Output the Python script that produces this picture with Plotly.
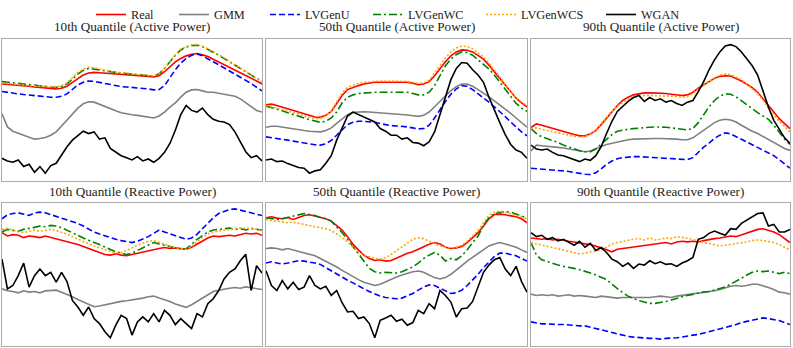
import plotly.graph_objects as go

# time axis: half-hour steps over one day
hours = [h / 2 for h in range(49)]

# ---- 10th quantile, active power
p1_real = [295,294,292,291,289,288,286,284,283,281,280,282,288,300,312,322,328,330,329,328,327,326,324,323,322,321,319,318,316,320,332,348,362,372,380,385,387,383,378,370,362,354,346,338,330,322,313,304,295]
p1_gmm = [205,165,152,146,138,132,128,130,133,140,150,168,186,205,222,235,241,240,233,226,220,214,208,204,202,200,198,196,192,198,210,225,238,255,270,277,278,274,270,270,267,266,263,258,250,238,225,215,210]
p1_u = [272,269,267,265,263,261,259,257,256,255,255,258,265,280,292,300,304,303,300,296,292,289,287,286,285,284,282,280,277,278,290,315,338,358,372,382,386,380,370,362,353,344,335,326,316,306,296,285,274]
p1_wc = [302,300,298,296,294,292,290,288,287,286,285,287,295,310,325,336,342,340,337,334,332,330,328,326,325,323,322,320,319,326,342,362,382,398,407,411,412,408,400,392,382,372,362,350,340,330,320,312,304]
p1_wcs = [298,297,296,294,292,290,289,287,286,285,286,290,298,314,330,340,346,344,340,336,333,331,329,327,326,324,323,321,320,326,342,362,384,400,408,413,414,410,402,393,384,374,364,352,342,332,322,312,300]
p1_wgan = [70,62,58,65,45,52,28,45,25,48,55,80,105,125,140,152,145,150,128,132,100,88,78,72,65,75,62,68,58,70,88,115,155,202,230,215,210,222,202,188,182,180,172,150,122,90,72,78,62]

# ---- 50th quantile, active power
p2_real = [232,234,230,225,220,215,210,205,200,195,194,200,212,235,260,278,285,290,295,298,300,300,300,300,301,302,300,297,293,295,302,320,342,362,380,392,398,397,392,382,370,352,332,312,290,270,252,238,226]
p2_gmm = [164,167,167,164,162,159,156,154,152,150,150,154,162,176,190,202,209,211,211,210,209,208,207,205,204,203,201,199,197,200,210,226,242,260,275,287,295,295,288,278,268,256,244,232,220,206,192,178,164]
p2_u = [135,133,131,128,125,122,119,116,113,111,110,114,124,140,158,172,179,182,182,181,179,175,171,169,168,167,165,162,159,160,170,192,218,242,264,280,290,288,278,266,252,240,226,212,196,180,164,150,138]
p2_wc = [228,224,220,214,208,202,196,192,187,182,179,182,192,210,238,255,262,266,268,269,270,270,270,270,271,272,270,266,262,262,270,290,320,350,370,384,392,390,382,368,354,340,322,300,278,255,236,222,212]
p2_wcs = [230,226,222,218,214,208,204,198,194,190,191,198,214,240,268,285,292,297,300,302,303,304,304,304,305,305,303,300,296,298,306,328,352,374,392,404,410,408,402,390,376,358,338,316,294,272,254,240,230]
p2_wgan = [65,68,60,62,54,48,42,40,25,32,35,55,78,125,162,198,210,202,194,188,180,160,152,140,140,128,132,118,116,108,120,150,205,260,308,342,360,358,338,322,300,255,215,178,142,112,95,88,70]

# ---- 90th quantile, active power
p3_real = [163,174,170,165,160,155,150,146,142,138,138,144,154,172,192,212,230,245,255,262,266,268,268,268,267,266,264,262,260,262,270,282,292,302,312,318,320,319,312,304,294,284,270,250,228,208,190,175,160]
p3_gmm = [92,110,108,107,105,103,101,98,95,92,90,92,100,106,112,116,120,123,126,128,129,130,130,130,130,130,129,128,126,126,132,144,156,168,178,185,188,186,180,170,160,152,145,136,128,118,108,100,94]
p3_u = [40,39,38,37,36,34,32,30,27,24,22,21,26,38,52,62,69,72,74,75,75,74,73,72,71,70,69,68,67,66,72,88,104,116,130,140,147,144,136,128,120,112,104,96,88,78,66,52,40]
p3_wc = [160,145,135,130,124,118,110,104,98,93,90,90,98,112,128,142,152,156,158,160,162,163,164,165,165,164,162,160,157,156,160,178,202,226,245,258,265,264,256,244,230,218,208,198,188,170,150,128,112]
p3_wcs = [160,162,158,154,150,146,143,140,137,135,136,144,156,175,195,212,228,240,250,255,258,260,260,260,260,259,258,257,255,257,266,280,292,304,314,322,325,323,316,308,294,280,266,246,222,200,182,165,150]
p3_wgan = [110,98,95,98,88,80,78,72,64,60,68,64,78,105,145,182,212,228,242,254,260,242,254,245,250,240,245,236,230,240,245,272,302,338,368,392,410,414,408,392,372,350,322,275,225,185,160,132,115]

# ---- 10th quantile, reactive power
p4_real = [343,333,337,335,328,333,331,328,333,329,325,321,317,313,307,301,295,287,281,277,275,279,275,273,277,281,283,287,291,295,298,295,297,295,293,299,308,319,327,333,331,333,335,333,337,341,339,341,335]
p4_gmm = [173,167,165,161,167,163,165,161,167,169,169,163,157,149,141,133,125,119,121,125,129,131,135,137,139,141,145,149,151,145,141,135,127,121,117,125,135,147,157,165,169,173,175,177,175,179,177,175,171]
p4_u = [385,397,401,403,399,395,403,405,403,398,393,388,383,377,371,363,353,345,339,333,328,323,319,315,313,317,323,331,341,351,345,339,333,327,323,327,338,355,373,388,401,408,413,415,411,407,405,401,395]
p4_wc = [345,353,350,347,353,355,359,363,361,365,363,358,351,343,335,327,319,313,307,299,291,285,281,277,281,289,297,307,313,309,305,301,297,293,295,307,323,335,345,351,353,355,357,353,355,351,355,353,351]
p4_wcs = [353,356,351,347,343,347,351,347,351,353,349,345,339,331,323,315,309,303,297,291,285,281,283,289,297,305,311,317,319,313,307,301,297,295,293,301,315,329,339,345,348,351,353,356,358,355,357,353,349]
p4_wgan = [263,173,183,213,251,178,213,233,213,223,193,223,195,138,118,93,118,83,68,43,25,63,93,83,33,73,88,73,98,73,108,93,65,83,68,53,98,88,128,143,168,203,223,233,258,278,168,243,221]

# ---- 50th quantile, reactive power
p5_real = [388,391,387,385,389,383,389,395,397,393,391,385,378,365,351,331,308,291,275,265,259,261,257,259,265,273,281,285,293,301,308,313,309,299,295,297,301,313,328,343,363,385,398,399,397,395,391,385,373]
p5_gmm = [295,297,295,291,295,291,287,283,279,273,265,257,249,239,229,219,211,201,193,187,183,187,195,203,209,215,221,225,227,223,215,207,203,207,217,229,243,257,269,281,293,303,309,313,309,305,299,291,283]
p5_u = [251,255,251,248,251,255,258,257,255,251,247,237,227,217,209,199,191,181,173,165,157,151,147,145,143,145,151,159,169,179,185,183,175,167,159,161,169,183,199,217,237,255,271,281,281,277,273,265,257]
p5_wc = [388,385,383,385,389,393,397,401,398,395,389,385,378,361,343,323,301,277,255,235,225,221,223,223,221,225,231,239,251,265,275,283,275,257,265,261,273,291,313,333,365,388,401,405,407,405,399,393,387]
p5_wcs = [383,381,377,375,373,375,371,367,365,361,358,355,349,339,329,315,299,285,275,269,265,263,267,277,289,301,313,323,327,325,317,309,303,299,297,299,305,317,333,349,373,397,405,408,405,401,395,391,385]
p5_wgan = [228,183,168,198,173,193,171,178,213,183,173,181,153,168,131,103,105,83,88,68,25,78,85,93,75,81,63,71,108,98,128,113,168,153,133,88,113,115,135,178,223,245,261,268,233,213,241,195,163]

# ---- 90th quantile, reactive power
p6_real = [327,325,323,325,321,323,319,317,315,311,309,307,303,297,291,285,293,295,297,299,301,303,307,309,311,313,309,315,317,315,317,315,319,323,325,327,331,333,331,337,343,347,353,355,351,345,337,325,313]
p6_gmm = [157,153,155,153,155,151,153,155,151,153,151,149,147,151,149,147,145,147,147,145,147,145,147,149,151,149,147,151,153,157,159,161,163,165,167,171,177,181,183,181,183,187,187,183,177,171,163,161,157]
p6_u = [73,69,67,67,65,65,65,63,61,61,61,57,53,47,43,39,35,33,29,27,25,25,23,23,21,23,23,25,27,31,33,35,39,43,47,51,57,61,65,71,75,79,83,85,83,81,77,71,65]
p6_wc = [313,275,261,255,249,245,241,239,235,231,227,221,215,209,201,187,173,161,151,143,137,133,129,129,131,135,139,145,149,153,157,161,163,165,169,173,179,187,195,205,215,223,227,225,227,223,219,223,219]
p6_wcs = [313,309,305,301,297,295,291,287,283,279,281,285,289,291,299,309,313,317,321,323,325,321,327,321,323,327,325,331,329,327,323,317,313,309,307,303,305,307,311,313,315,319,321,319,317,313,307,299,291]
p6_wgan = [343,331,335,323,328,318,323,313,305,317,299,311,289,298,283,263,255,241,251,235,248,245,258,249,255,247,249,241,251,258,268,323,328,341,348,341,335,355,353,371,381,391,401,403,363,368,345,345,353]

titles = ["10th Quantile (Active Power)", "50th Quantile (Active Power)", "90th Quantile (Active Power)",
          "10th Quantile (Reactive Power)", "50th Quantile (Reactive Power)", "90th Quantile (Reactive Power)"]

panels = [
    [p1_real, p1_gmm, p1_u, p1_wc, p1_wcs, p1_wgan],
    [p2_real, p2_gmm, p2_u, p2_wc, p2_wcs, p2_wgan],
    [p3_real, p3_gmm, p3_u, p3_wc, p3_wcs, p3_wgan],
    [p4_real, p4_gmm, p4_u, p4_wc, p4_wcs, p4_wgan],
    [p5_real, p5_gmm, p5_u, p5_wc, p5_wcs, p5_wgan],
    [p6_real, p6_gmm, p6_u, p6_wc, p6_wcs, p6_wgan],
]

# name, colour, dash
styles = [
    ("Real", "#ff0000", "solid"),
    ("GMM", "#808080", "solid"),
    ("LVGenU", "#0000ff", "6px,3px"),
    ("LVGenWC", "#008000", "8px,3px,2px,3px"),
    ("LVGenWCS", "#ffa500", "2px,2px"),
    ("WGAN", "#000000", "solid"),
]

W, H = 793, 348
x_doms = [(2, 262), (266, 527), (531, 790)]
y_doms = [(36, 180), (202, 346)]
title_y = [23.5, 190]
# left edge of each legend entry's line sample
legend_x = [104, 187, 278, 381, 494, 614]

fig = go.Figure()
layout = {}
annotations = []

for k, series in enumerate(panels):
    r, c = divmod(k, 3)
    ax = "" if k == 0 else str(k + 1)
    for j, ((name, color, dash), vals) in enumerate(zip(styles, series)):
        fig.add_trace(go.Scatter(
            x=hours, y=vals, mode="lines", name=name,
            line=dict(color=color, width=1.6, dash=dash),
            showlegend=(k == 0), legendgroup=name,
            legend="legend" if j == 0 else "legend%d" % (j + 1),
            xaxis="x" + ax, yaxis="y" + ax,
        ))
    x0, x1 = x_doms[c]
    y0, y1 = y_doms[r]
    common = dict(showticklabels=False, ticks="", showgrid=False, zeroline=False,
                  showline=True, mirror=True, linecolor="#ababab", linewidth=1.2)
    layout["xaxis" + ax] = dict(domain=[x0 / W, x1 / W], range=[0, 24],
                                anchor="y" + ax, **common)
    layout["yaxis" + ax] = dict(domain=[1 - y1 / H, 1 - y0 / H], range=[0, 432],
                                anchor="x" + ax, **common)
    annotations.append(dict(text=titles[k], x=(x0 + x1) / 2 / W, y=1 - title_y[r] / H,
                            xref="paper", yref="paper", xanchor="center", yanchor="middle",
                            showarrow=False, font=dict(size=13.2, color="#222222")))

# one single-entry legend per series so each sits where the reference puts it
for j, lx in enumerate(legend_x):
    key = "legend" if j == 0 else "legend%d" % (j + 1)
    layout[key] = dict(orientation="h", x=(lx - 13) / W, xanchor="left",
                       y=1 - 11.5 / H, yanchor="middle", font=dict(size=12.3),
                       bgcolor="rgba(0,0,0,0)", borderwidth=0)

fig.update_layout(**layout)
fig.update_layout(
    width=W, height=H,
    margin=dict(l=0, r=0, t=0, b=0),
    paper_bgcolor="white", plot_bgcolor="white",
    font=dict(family="Liberation Serif, Times New Roman, serif", color="#222222"),
    annotations=annotations,
)

# page body has a default 8px margin; drop it so the figure sits at the corner
fig.write_html("out.html", config={"displayModeBar": False},
               post_script="document.body.style.margin = '0px';")
